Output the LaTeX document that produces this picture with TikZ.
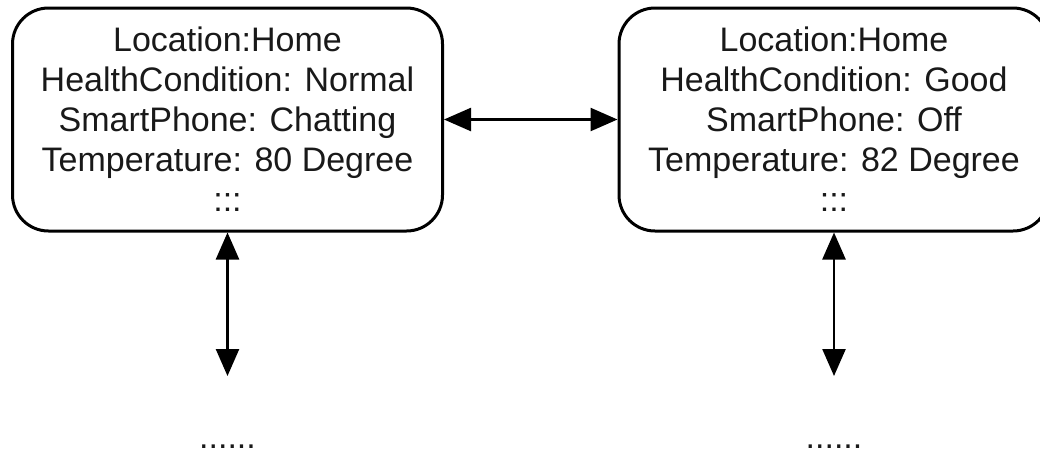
\documentclass[tikz,border=0pt]{standalone}
\usepackage{fontspec}
\setmainfont{Liberation Sans}
\usetikzlibrary{arrows.meta}

\tikzset{
  statebox/.style={draw=black, line width=3pt, rounded corners=36pt,
    minimum width=430pt, minimum height=223pt, inner sep=0pt,
    align=center, text=black!90, font=\fontsize{34}{40}\selectfont},
  link/.style={line width=2.5pt, {Triangle[length=27pt,width=23pt]}-{Triangle[length=27pt,width=23pt]}},
  more/.style={anchor=base, inner sep=0pt, text=black!90, font=\fontsize{34}{40}\selectfont}
}

\begin{document}
\begin{tikzpicture}[x=1pt, y=-1pt]
  \clip (0,0) rectangle (1040,456);
  \useasboundingbox (0,0) rectangle (1040,456);

  % two states of the context
  \node[statebox] (s1) at (227.5,119.5) {Location:Home\\HealthCondition: Normal\\SmartPhone: Chatting\\Temperature: 80 Degree\\:::};
  \node[statebox] (s2) at (834,119.5) {Location:Home\\HealthCondition: Good\\SmartPhone: Off\\Temperature: 82 Degree\\:::};

  % continuation below each state
  \coordinate (c1) at (227.5,376);
  \coordinate (c2) at (834,376);
  \node[more] (d1) at (227.5,448) {......};
  \node[more] (d2) at (834,448) {......};

  % connectors
  \draw[link] (s1.east) -- (s2.west);
  \draw[link] (s1.south) -- (c1);
  \draw[link] (s2.south) -- (c2);
\end{tikzpicture}
\end{document}
